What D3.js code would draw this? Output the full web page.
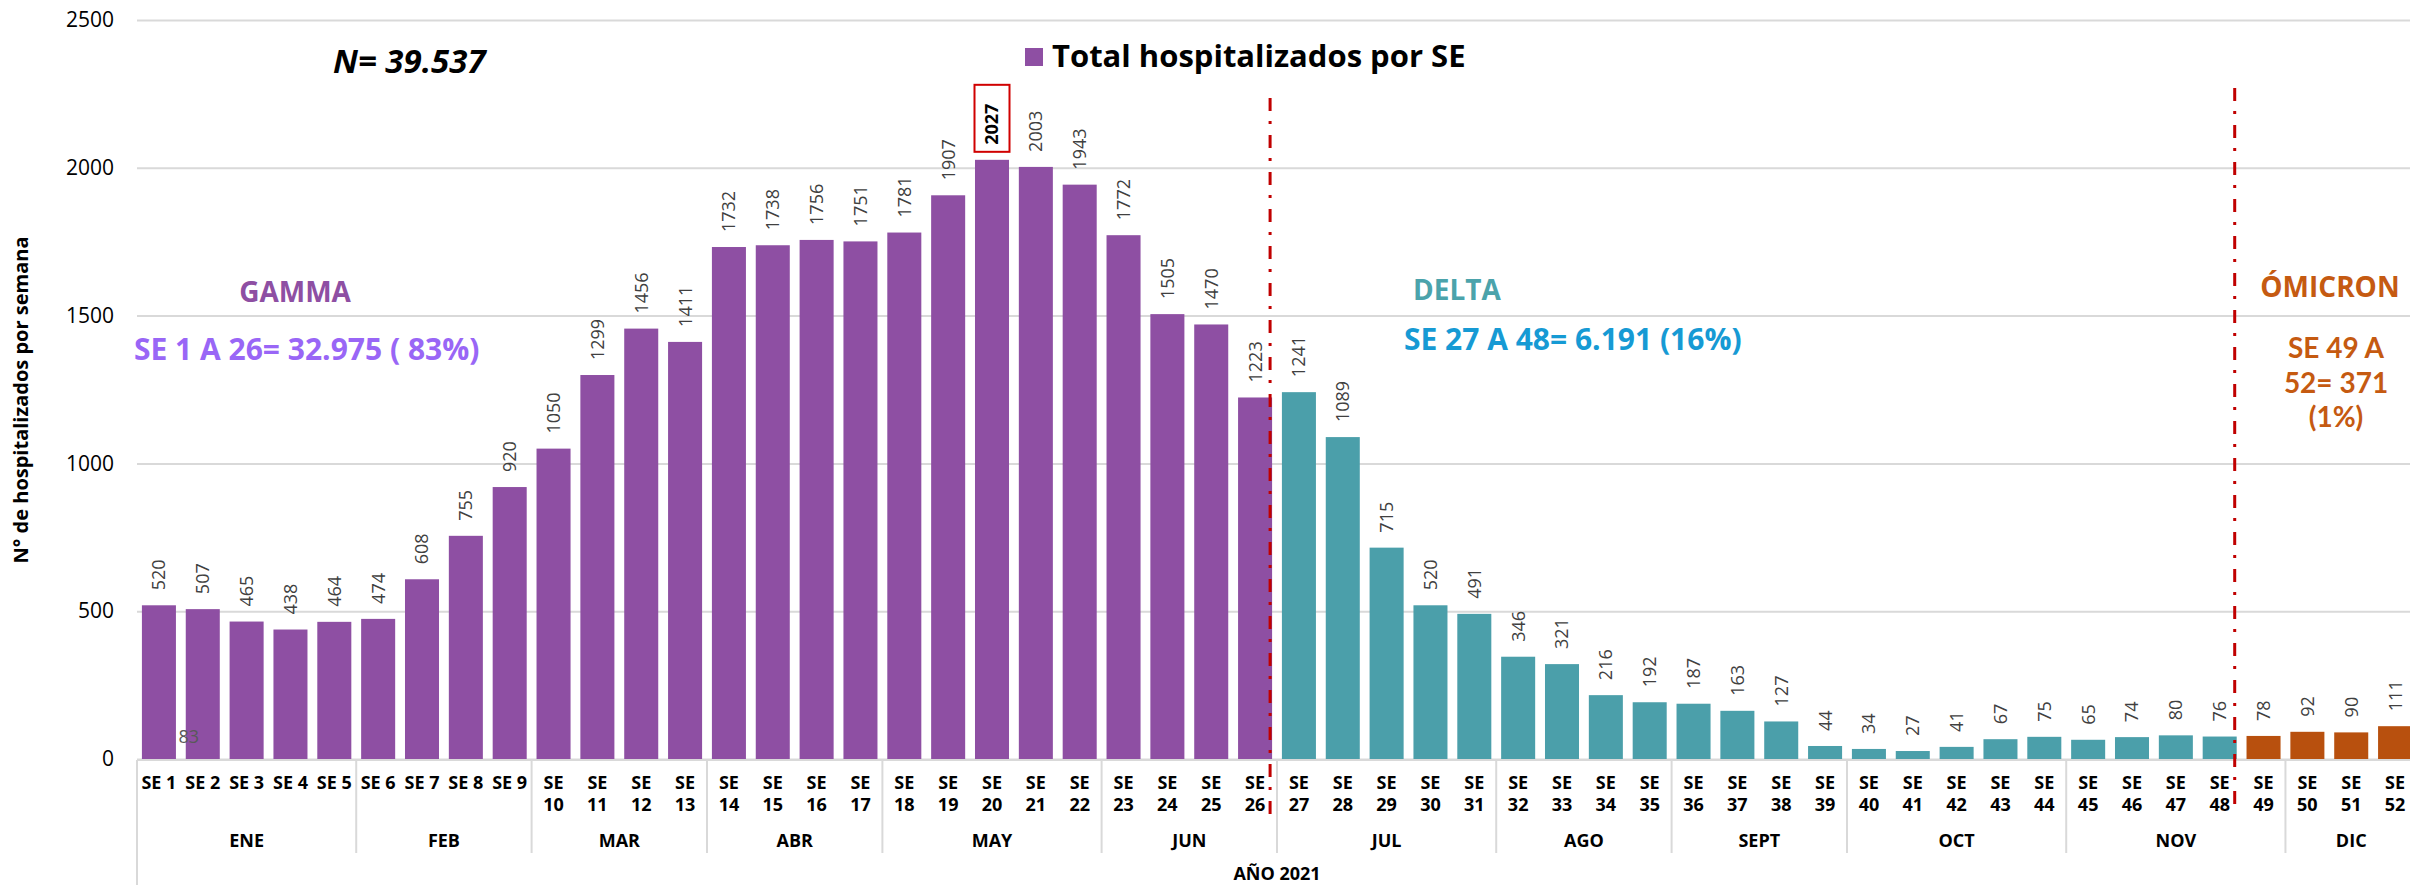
<!DOCTYPE html>
<html>
<head>
<meta charset="utf-8">
<script src="https://cdn.jsdelivr.net/npm/d3@7"></script>
<style>
  html, body { margin: 0; padding: 0; background: #ffffff; }
  svg { display: block; }
</style>
</head>
<body>
<svg id="chart" width="2410" height="885"></svg>
<script>
// Weekly hospitalisations, 2021 (epidemiological weeks)
const weeks = [
  "SE 1","SE 2","SE 3","SE 4","SE 5","SE 6","SE 7","SE 8","SE 9","SE 10",
  "SE 11","SE 12","SE 13","SE 14","SE 15","SE 16","SE 17","SE 18","SE 19","SE 20",
  "SE 21","SE 22","SE 23","SE 24","SE 25","SE 26","SE 27","SE 28","SE 29","SE 30",
  "SE 31","SE 32","SE 33","SE 34","SE 35","SE 36","SE 37","SE 38","SE 39","SE 40",
  "SE 41","SE 42","SE 43","SE 44","SE 45","SE 46","SE 47","SE 48","SE 49","SE 50",
  "SE 51","SE 52"
];
const hospitalized = [
  520, 507, 465, 438, 464, 474, 608, 755, 920, 1050,
  1299, 1456, 1411, 1732, 1738, 1756, 1751, 1781, 1907, 2027,
  2003, 1943, 1772, 1505, 1470, 1223, 1241, 1089, 715, 520,
  491, 346, 321, 216, 192, 187, 163, 127, 44, 34,
  27, 41, 67, 75, 65, 74, 80, 76, 78, 92,
  90, 111
];
const months = ["ENE","FEB","MAR","ABR","MAY","JUN","JUL","AGO","SEPT","OCT","NOV","DIC"];
const monthFirstWeek = [1, 6, 10, 14, 18, 23, 27, 32, 36, 40, 45, 50];
const yTicks = [0, 500, 1000, 1500, 2000, 2500];
const variantNames = ["GAMMA", "DELTA", "ÓMICRON"];
const variantFirstWeek = [1, 27, 49];
const variantLastWeek = [26, 48, 52];
const variantSummary = [
  ["SE 1 A 26= 32.975 ( 83%)"],
  ["SE 27 A 48= 6.191 (16%)"],
  ["SE 49 A", "52= 371", "(1%)"]
];
const totalLabel = "N= 39.537";
const legendLabel = "Total hospitalizados por SE";
const yTitle = "N° de hospitalizados por semana";
const yearLabel = "AÑO 2021";
const strayLabel = "83";

// ---- style ----
const W = 2410, H = 885;
const barColors = ["#8E4FA3", "#4B9FAA", "#B8500E"];
const nameColors = ["#8E4FA3", "#4BA3AB", "#C55A11"];
const summaryColors = ["#9966F6", "#169AD4", "#C55A11"];
const gridColor = "#D9D9D9";
const dividerColor = "#C00000";
const FONT = "'Open Sans', 'DejaVu Sans', sans-serif";
const NARROW = "Lato, 'Open Sans', sans-serif";

const svg = d3.select("#chart");

const x = d3.scaleBand()
  .domain(weeks)
  .range([137, 2417])
  .paddingInner(0.224)
  .paddingOuter(0.112);

const y = d3.scaleLinear().domain([0, 2500]).range([759, 20]);

const variantIndex = i => {
  const wk = i + 1;
  return variantFirstWeek.findIndex((f, k) => wk >= f && wk <= variantLastWeek[k]);
};

// ---- gridlines + y tick labels ----
const yAxis = svg.append("g")
  .attr("transform", "translate(137,0)")
  .call(d3.axisLeft(y).tickValues(yTicks).tickSize(-(W - 137)).tickPadding(23).tickFormat(d3.format("d")));
yAxis.select(".domain").remove();
yAxis.selectAll(".tick line").attr("stroke", gridColor).attr("stroke-width", 2);
yAxis.selectAll(".tick text")
  .attr("fill", "#000")
  .style("font-family", FONT)
  .style("font-size", "21px");

// ---- bars ----
svg.append("g").selectAll("rect")
  .data(hospitalized)
  .join("rect")
  .attr("x", (d, i) => x(weeks[i]))
  .attr("y", d => y(d))
  .attr("width", x.bandwidth())
  .attr("height", d => y(0) - y(d))
  .attr("fill", (d, i) => barColors[variantIndex(i)]);

// ---- x axis baseline ----
svg.append("line")
  .attr("x1", 137).attr("x2", W)
  .attr("y1", y(0) + 1).attr("y2", y(0) + 1)
  .attr("stroke", gridColor).attr("stroke-width", 2);

// ---- value labels ----
const peak = d3.maxIndex(hospitalized);
const labels = svg.append("g");
hospitalized.forEach((v, i) => {
  const cx = x(weeks[i]) + x.bandwidth() / 2;
  const isPeak = i === peak;
  if (isPeak) {
    labels.append("rect")
      .attr("x", cx - 17.5)
      .attr("y", y(v) - 75)
      .attr("width", 35)
      .attr("height", 67)
      .attr("fill", "none")
      .attr("stroke", "#D00000")
      .attr("stroke-width", 2);
  }
  labels.append("text")
    .attr("transform", `translate(${cx},${y(v) - 15}) rotate(-90)`)
    .attr("dy", "0.36em")
    .attr("text-anchor", "start")
    .attr("fill", isPeak ? "#000" : "#404040")
    .style("font-family", FONT)
    .style("font-weight", isPeak ? 700 : 400)
    .style("font-size", "18px")
    .text(v);
});

// stray data label inside week 2
svg.append("text")
  .attr("x", x(weeks[1]) + 3)
  .attr("y", 743)
  .attr("text-anchor", "middle")
  .attr("fill", "#595959")
  .style("font-family", FONT)
  .style("font-size", "18px")
  .text(strayLabel);

// ---- week tick labels ----
const tickG = svg.append("g")
  .style("font-family", FONT)
  .style("font-weight", 700)
  .style("font-size", "18px")
  .attr("fill", "#000");
weeks.forEach((wk, i) => {
  const cx = x(wk) + x.bandwidth() / 2;
  const num = wk.slice(3);
  const t = tickG.append("text").attr("text-anchor", "middle");
  if (num.length === 1) {
    t.attr("x", cx).attr("y", 789).text(wk);
  } else {
    t.append("tspan").attr("x", cx).attr("y", 789).text("SE");
    t.append("tspan").attr("x", cx).attr("y", 811).text(num);
  }
});

// ---- month groups ----
const step = x.step();
const x0 = x.range()[0];
const boundary = wk => x0 + (wk - 1) * step;
const monthG = svg.append("g");
months.forEach((m, k) => {
  const start = monthFirstWeek[k];
  const end = k < months.length - 1 ? monthFirstWeek[k + 1] : weeks.length + 1;
  const bx = boundary(start);
  monthG.append("line")
    .attr("x1", bx).attr("x2", bx)
    .attr("y1", y(0) + 1).attr("y2", k === 0 ? H : 853)
    .attr("stroke", gridColor).attr("stroke-width", 2);
  monthG.append("text")
    .attr("x", (boundary(start) + boundary(end)) / 2)
    .attr("y", 847)
    .attr("text-anchor", "middle")
    .attr("fill", "#000")
    .style("font-family", FONT)
    .style("font-weight", 700)
    .style("font-size", "18px")
    .text(m);
});
svg.append("text")
  .attr("x", (x.range()[0] + x.range()[1]) / 2)
  .attr("y", 880)
  .attr("text-anchor", "middle")
  .attr("fill", "#000")
  .style("font-family", FONT)
  .style("font-weight", 700)
  .style("font-size", "18px")
  .text(yearLabel);

// ---- variant dividers ----
const dividerTops = [98, 88];
[1, 2].forEach((k, j) => {
  const prevLast = weeks[variantLastWeek[k - 1] - 1];
  const dx = x(prevLast) + x.bandwidth() - 2;
  svg.append("line")
    .attr("x1", dx).attr("x2", dx)
    .attr("y1", dividerTops[j]).attr("y2", dividerTops[j] + 725)
    .attr("stroke", dividerColor)
    .attr("stroke-width", 3)
    .attr("stroke-dasharray", "13 10 3 11");
});

// ---- variant annotations ----
const annot = svg.append("g")
  .style("font-family", FONT)
  .style("font-weight", 700);
// GAMMA
annot.append("text").attr("x", 295).attr("y", 302).attr("text-anchor", "middle")
  .attr("fill", nameColors[0]).style("font-size", "28px").text(variantNames[0]);
annot.append("text").attr("x", 134).attr("y", 360).attr("text-anchor", "start")
  .attr("fill", summaryColors[0]).style("font-size", "30px").text(variantSummary[0][0]);
// DELTA
annot.append("text").attr("x", 1457).attr("y", 300).attr("text-anchor", "middle")
  .attr("fill", nameColors[1]).style("font-size", "28px").text(variantNames[1]);
annot.append("text").attr("x", 1404).attr("y", 350).attr("text-anchor", "start")
  .attr("fill", summaryColors[1]).style("font-size", "30px").text(variantSummary[1][0]);
// ÓMICRON
annot.append("text").attr("x", 2330).attr("y", 297).attr("text-anchor", "middle")
  .attr("fill", nameColors[2]).style("font-size", "28px").text(variantNames[2]);
const omiBase = [358, 393, 427];
variantSummary[2].forEach((line, j) => {
  annot.append("text").attr("x", 2336).attr("y", omiBase[j]).attr("text-anchor", "middle")
    .attr("fill", summaryColors[2])
    .style("font-family", NARROW)
    .style("font-size", "28px")
    .text(line);
});

// ---- total ----
svg.append("text")
  .attr("x", 333).attr("y", 73)
  .attr("fill", "#000")
  .style("font-family", FONT)
  .style("font-weight", 700)
  .style("font-style", "italic")
  .style("font-size", "33px")
  .text(totalLabel);

// ---- legend ----
svg.append("rect")
  .attr("x", 1025).attr("y", 48).attr("width", 18).attr("height", 18)
  .attr("fill", barColors[0]);
svg.append("text")
  .attr("x", 1052).attr("y", 67)
  .attr("fill", "#000")
  .style("font-family", FONT)
  .style("font-weight", 700)
  .style("font-size", "31px")
  .text(legendLabel);

// ---- y axis title ----
svg.append("text")
  .attr("transform", "translate(21,400) rotate(-90)")
  .attr("dy", "0.35em")
  .attr("text-anchor", "middle")
  .attr("fill", "#000")
  .style("font-family", FONT)
  .style("font-weight", 700)
  .style("font-size", "20px")
  .text(yTitle);
</script>
</body>
</html>
